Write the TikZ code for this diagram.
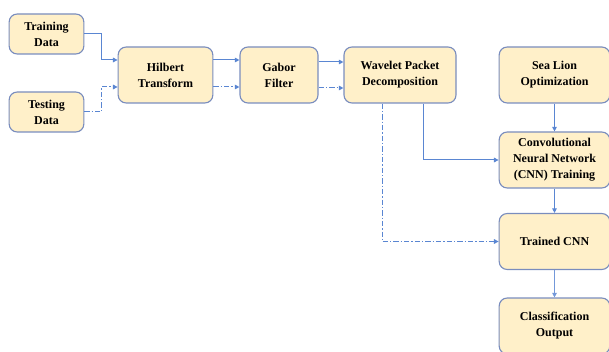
\documentclass[tikz,border=0pt]{standalone}
\usepackage{fontspec}
\setmainfont{Liberation Serif}
\usetikzlibrary{calc,arrows.meta}
\definecolor{boxfill}{HTML}{FFF0C9}
\definecolor{boxline}{HTML}{7A8DBE}
\definecolor{flowblue}{HTML}{5A86D2}

\begin{document}
\begin{tikzpicture}[x=0.75pt,y=-0.75pt,
  stage/.style={draw=boxline,fill=boxfill,line width=0.85pt,rounded corners=6pt,
    align=center,font=\fontsize{9}{12}\selectfont\bfseries,inner sep=2pt},
  flow/.style={flowblue,line width=0.75pt,-{Triangle[length=3.5pt,width=3.5pt]}},
  testflow/.style={flow,dash pattern=on 4pt off 1.5pt on 1pt off 1.5pt}]
  \useasboundingbox (0,0) rectangle (609,352);
  % input data
  \node[stage,minimum width=56pt,minimum height=30pt] (train) at (46.5,34) {Training\\Data};
  \node[stage,minimum width=56pt,minimum height=30pt] (test) at (46.5,112) {Testing\\Data};
  % feature extraction chain
  \node[stage,minimum width=71pt,minimum height=42pt] (hil) at (165.5,75) {Hilbert\\Transform};
  \node[stage,minimum width=58.5pt,minimum height=42pt] (gab) at (279,75) {Gabor\\Filter};
  \node[stage,minimum width=84pt,minimum height=42pt] (wpd) at (400,75) {Wavelet Packet\\Decomposition};
  % classifier column
  \node[stage,minimum width=83pt,minimum height=42pt] (slo) at (554.5,75) {Sea Lion\\Optimization};
  \node[stage,minimum width=83pt,minimum height=42pt] (cnn) at (554.5,160) {Convolutional\\Neural Network\\(CNN) Training};
  \node[stage,minimum width=83pt,minimum height=42pt] (trained) at (554.5,241.5) {Trained CNN};
  \node[stage,minimum width=83pt,minimum height=42pt] (out) at (554.5,326) {Classification\\Output};

  \draw[flow] (train.east) -- ++(17,0) |- ($(hil.west)+(0,-15)$);
  \draw[testflow] (test.east) -- ++(17,0) |- ($(hil.west)+(0,12)$);
  \draw[flow] ($(hil.east)+(0,-15)$) -- ($(gab.west)+(0,-15)$);
  \draw[testflow] ($(hil.east)+(0,12)$) -- ($(gab.west)+(0,12)$);
  \draw[flow] ($(gab.east)+(0,-13)$) -- ($(wpd.west)+(0,-13)$);
  \draw[testflow] ($(gab.east)+(0,13)$) -- ($(wpd.west)+(0,13)$);
  \draw[flow] ($(wpd.south)+(23,0)$) |- (cnn.west);
  \draw[testflow] ($(wpd.south)+(-18,0)$) |- (trained.west);
  \draw[flow] (slo) -- (cnn);
  \draw[flow] (cnn) -- (trained);
  \draw[flow,line width=1.1pt,flowblue!85] (trained) -- (out);
\end{tikzpicture}
\end{document}
